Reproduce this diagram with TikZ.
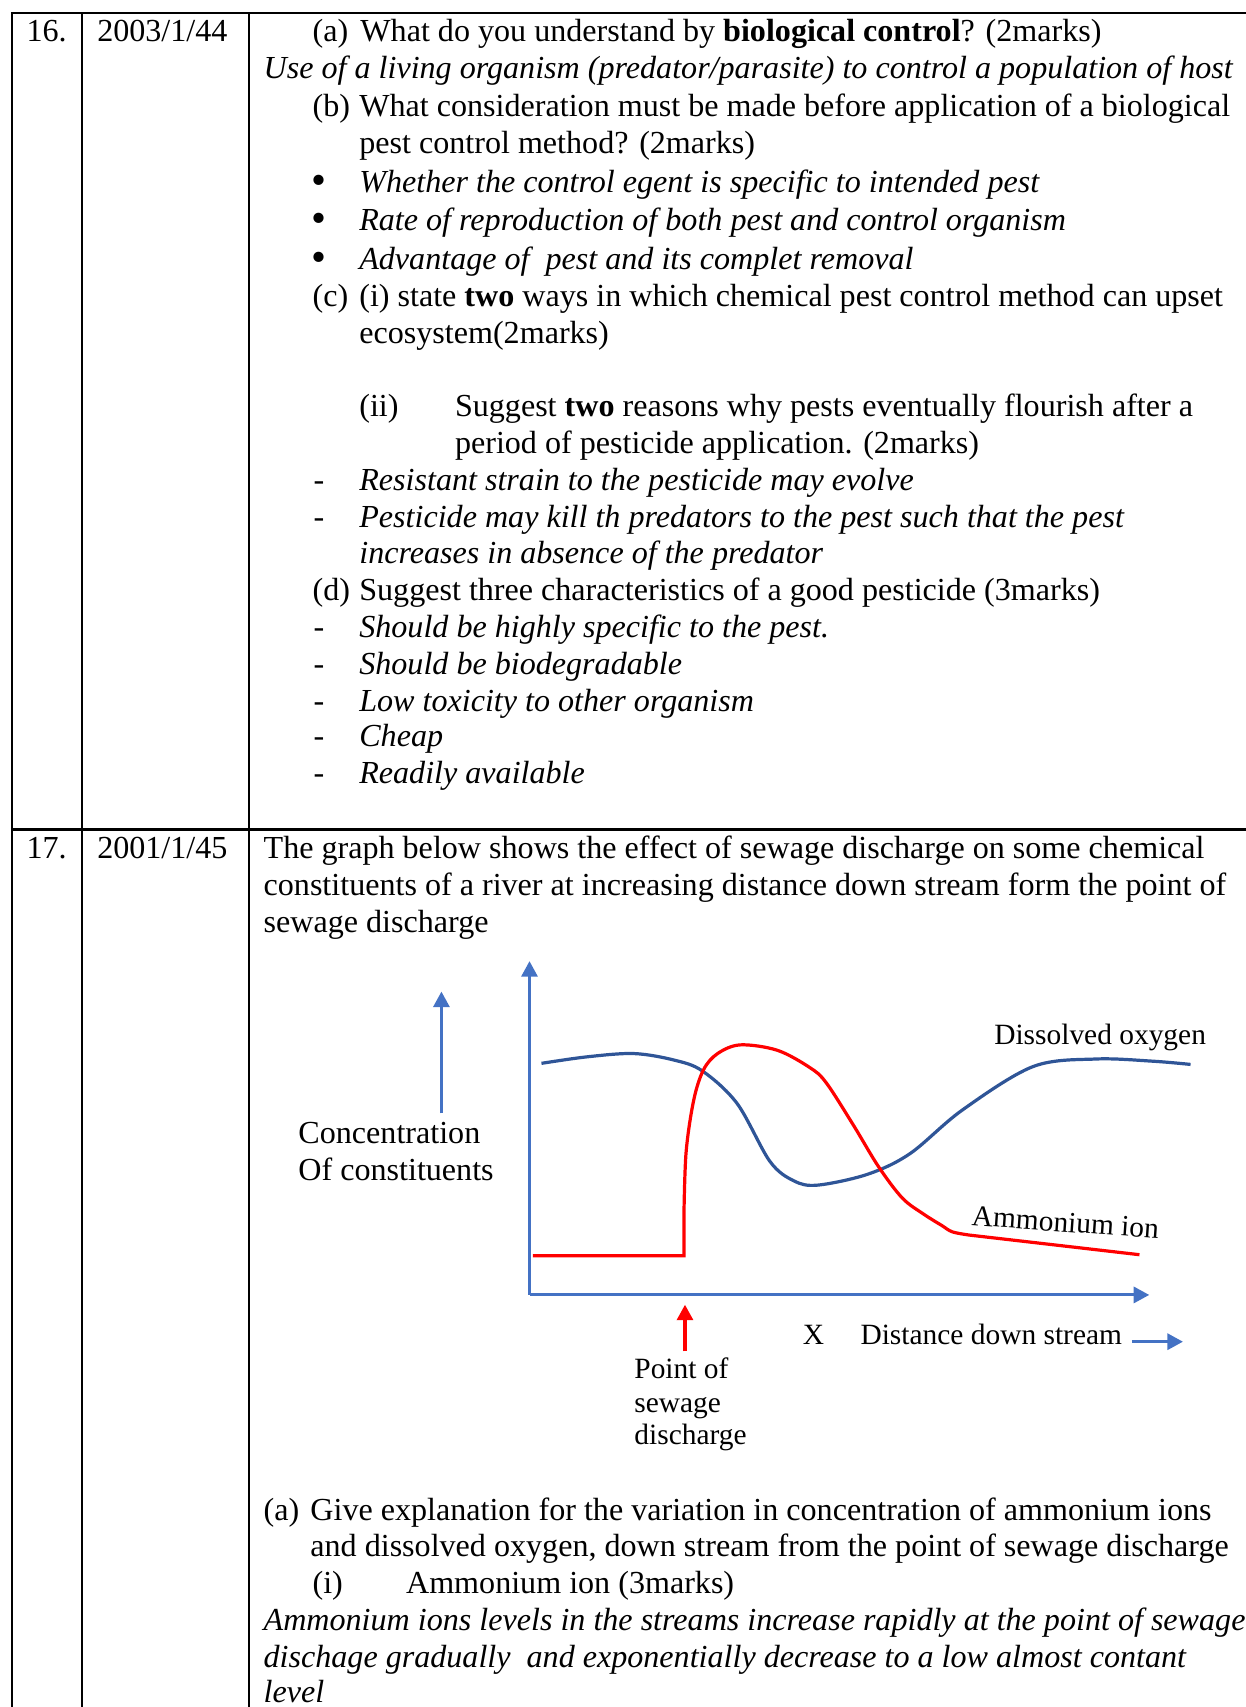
\documentclass[tikz,border=0pt]{standalone}
\usepackage{fontspec}
\setmainfont{Liberation Serif}
\usetikzlibrary{arrows.meta}
\definecolor{axisblue}{HTML}{4472C4}
\definecolor{curveblue}{HTML}{2F5597}
\definecolor{curvered}{HTML}{FF0000}
\begin{document}
\begin{tikzpicture}[x=0.4065pt,y=-0.4065pt,
  txt/.style={anchor=base west,inner sep=0pt,font=\fontsize{12}{14}\selectfont},
  small/.style={anchor=base west,inner sep=0pt,font=\fontsize{11}{13}\selectfont},
  ital/.style={anchor=base west,inner sep=0pt,font=\fontsize{12}{14}\selectfont\itshape},
  bull/.style={anchor=base west,inner sep=0pt,font=\fontsize{16}{14}\selectfont},
  rule/.style={line width=1pt,black},
  tip/.style={-{Triangle[width=6pt,length=5.8pt]}},
  axisline/.style={line width=1.1pt,axisblue,tip},
  bluecurve/.style={line width=1.2pt,curveblue},
  redcurve/.style={line width=1.2pt,curvered},
  redarrow/.style={line width=1.2pt,curvered,tip}]
\useasboundingbox (0,0) rectangle (1146,1570);
% table rules
\coordinate (tl) at (10,12);
\coordinate (tr) at (1146,12);
\coordinate (ml) at (10,763);
\coordinate (mr) at (1146,763);
\coordinate (c1t) at (11,12);
\coordinate (c1b) at (11,1570);
\coordinate (c2t) at (75.5,12);
\coordinate (c2b) at (75.5,1570);
\coordinate (c3t) at (229,12);
\coordinate (c3b) at (229,1570);
\draw[rule] (tl) -- (tr);
\draw[rule] (ml) -- (mr);
\draw[rule] (c1t) -- (c1b);
\draw[rule] (c2t) -- (c2b);
\draw[rule] (c3t) -- (c3b);
% row 16
\node[txt] (n16) at (24,38) {16.};
\node[txt] (y16) at (89,38) {2003/1/44};
\node[txt] (la) at (287,38) {(a)};
\node[txt] (ta) at (331,38) {What do you understand by \textbf{biological control}? (2marks)};
\node[ital] (ua) at (242,72) {Use of a living organism (predator/parasite) to control a population of host};
\node[txt] (lb) at (287,107) {(b)};
\node[txt] (tb1) at (330,107) {What consideration must be made before application of a biological};
\node[txt] (tb2) at (330,141) {pest control method? (2marks)};
\node[bull] (bu1) at (286,179) {\textbullet};
\node[ital] (b1) at (330,177) {Whether the control egent is specific to intended pest};
\node[bull] (bu2) at (286,214) {\textbullet};
\node[ital] (b2) at (330,212) {Rate of reproduction of both pest and control organism};
\node[bull] (bu3) at (286,250) {\textbullet};
\node[ital] (b3) at (330,248) {Advantage of\ \ pest and its complet removal};
\node[txt] (lc) at (287,282) {(c)};
\node[txt] (tc1) at (330,282) {(i) state \textbf{two} ways in which chemical pest control method can upset};
\node[txt] (tc2) at (330,316) {ecosystem(2marks)};
\node[txt] (lii) at (330,383) {(ii)};
\node[txt] (tii1) at (418,383) {Suggest \textbf{two} reasons why pests eventually flourish after a};
\node[txt] (tii2) at (418,417) {period of pesticide application. (2marks)};
\node[txt] (d1) at (288,451) {-};
\node[ital] (r1) at (330,451) {Resistant strain to the pesticide may evolve};
\node[txt] (d2) at (288,485) {-};
\node[ital] (r2) at (330,485) {Pesticide may kill th predators to the pest such that the pest};
\node[ital] (r3) at (330,518) {increases in absence of the predator};
\node[txt] (ld) at (287,552) {(d)};
\node[txt] (td) at (330,552) {Suggest three characteristics of a good pesticide (3marks)};
\node[txt] (d3) at (288,586) {-};
\node[ital] (s1) at (330,586) {Should be highly specific to the pest.};
\node[txt] (d4) at (288,620) {-};
\node[ital] (s2) at (330,620) {Should be biodegradable};
\node[txt] (d5) at (288,654) {-};
\node[ital] (s3) at (330,654) {Low toxicity to other organism};
\node[txt] (d6) at (288,687) {-};
\node[ital] (s4) at (330,687) {Cheap};
\node[txt] (d7) at (288,721) {-};
\node[ital] (s5) at (330,721) {Readily available};
% row 17
\node[txt] (n17) at (24,790) {17.};
\node[txt] (y17) at (89,790) {2001/1/45};
\node[txt] (g1) at (242,790) {The graph below shows the effect of sewage discharge on some chemical};
\node[txt] (g2) at (242,824) {constituents of a river at increasing distance down stream form the point of};
\node[txt] (g3) at (242,858) {sewage discharge};
% graph
\coordinate (O) at (487,1191);
\coordinate (Ytip) at (487,884);
\coordinate (Xtip) at (1057,1191);
\draw[axisline] (O) -- (Ytip);
\draw[axisline] (O) -- (Xtip);
\coordinate (ca0) at (406,1024);
\coordinate (ca1) at (406,912);
\draw[axisline] (ca0) -- (ca1);
\node[txt] (conc1) at (274,1052) {Concentration};
\node[txt] (conc2) at (274,1086) {Of constituents};
\draw[bluecurve] plot[smooth,tension=0.55] coordinates {(498,978) (540,972) (583,969) (620,975) (646,985) (678,1015) (708,1068) (730,1086) (752,1090) (798,1080) (837,1061) (885,1021) (950,981) (1008,974) (1060,976) (1095,979)};
\draw[redcurve] (490,1155) -- (629,1155) -- (629,1120)
  plot[smooth,tension=0.55] coordinates {(629,1120) (631,1060) (638,1012) (647,984) (660,969) (681,961) (715,966) (745,982) (760,996) (785,1035) (808,1073) (830,1102) (850,1117) (866,1127) (876,1133) (892,1136)} -- (1048,1154);
\node[small] (dox) at (914,961) {Dissolved oxygen};
\node[small,rotate=-4] (amm) at (893,1127) {Ammonium ion};
\node[small] (xl) at (738,1237) {X};
\node[small] (dds) at (791,1237) {Distance down stream};
\coordinate (sa0) at (1041,1234);
\coordinate (sa1) at (1088,1234);
\draw[axisline] (sa0) -- (sa1);
\coordinate (pa0) at (630,1243);
\coordinate (pa1) at (630,1200);
\draw[redarrow] (pa0) -- (pa1);
\node[small] (p1) at (583,1268) {Point of};
\node[small] (p2) at (583,1299) {sewage};
\node[small] (p3) at (583,1329) {discharge};
% questions
\node[txt] (qa) at (242,1398) {(a)};
\node[txt] (qa1) at (285,1398) {Give explanation for the variation in concentration of ammonium ions};
\node[txt] (qa2) at (285,1432) {and dissolved oxygen, down stream from the point of sewage discharge};
\node[txt] (qi) at (287,1466) {(i)};
\node[txt] (qi1) at (373,1466) {Ammonium ion (3marks)};
\node[ital] (an1) at (242,1500) {Ammonium ions levels in the streams increase rapidly at the point of sewage};
\node[ital] (an2) at (242,1534) {dischage gradually\ \ and exponentially decrease to a low almost contant};
\node[ital] (an3) at (242,1566) {level};
\end{tikzpicture}
\end{document}
